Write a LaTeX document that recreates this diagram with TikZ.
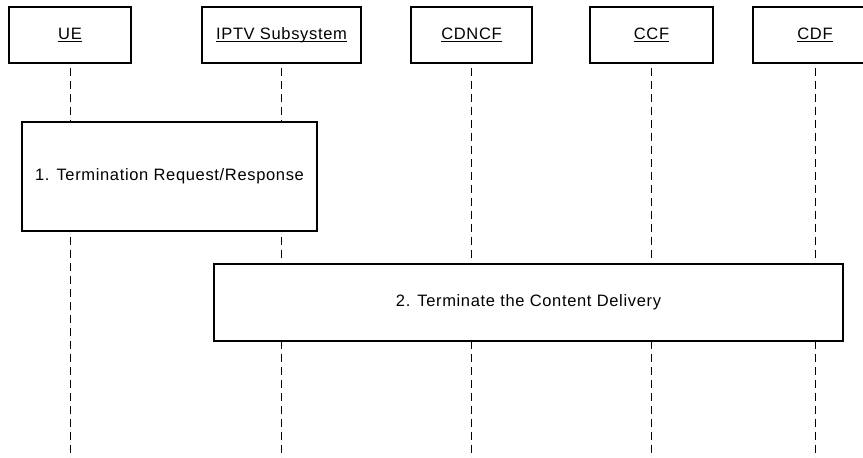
\documentclass[tikz,border=0pt]{standalone}
\usepackage{fontspec}
\setmainfont{Liberation Sans}[LetterSpace=4]
\newcommand{\lbl}{\fontsize{16.5}{19}\selectfont}
\newcommand{\ulbl}[1]{\setbox0\hbox{#1}\rlap{\rule[-2.4pt]{\wd0}{0.9pt}}\box0}
\begin{document}
\begin{tikzpicture}[x=1pt,y=-1pt,
  hdr/.style={draw, line width=1.1pt, fill=white, minimum height=56pt, inner sep=0pt, font=\lbl},
  life/.style={line width=0.9pt, dash pattern=on 8pt off 5pt, dash phase=9pt},
  act/.style={draw, line width=1.3pt, fill=white, inner sep=0pt, font=\lbl}]
\useasboundingbox (0,0) rectangle (863,458);
\clip (0,0) rectangle (863,458);
% headers
\node[hdr, minimum width=122pt] (ue)   at (70,35)    {\ulbl{UE}};
\node[hdr, minimum width=159pt] (iptv) at (281.5,35) {\ulbl{IPTV Subsystem}};
\node[hdr, minimum width=121pt] (cdncf) at (471.5,35) {\ulbl{CDNCF}};
\node[hdr, minimum width=123pt] (ccf)  at (651.5,35) {\ulbl{CCF}};
\node[hdr, minimum width=124pt] (cdf)  at (815,35)   {\ulbl{CDF}};
% lifeline ends
\coordinate (ueEnd)    at (70,460);
\coordinate (iptvEnd)  at (281.5,460);
\coordinate (cdncfEnd) at (471.5,460);
\coordinate (ccfEnd)   at (651.5,460);
\coordinate (cdfEnd)   at (815,460);
\draw[life] (ue.south) -- (ueEnd);
\draw[life] (iptv.south) -- (iptvEnd);
\draw[life] (cdncf.south) -- (cdncfEnd);
\draw[life] (ccf.south) -- (ccfEnd);
\draw[life] (cdf.south) -- (cdfEnd);
% action boxes
\node[act, minimum width=295pt, minimum height=109pt] (step1) at (169.5,176.5) {1. Termination Request/Response};
\node[act, minimum width=629pt, minimum height=77pt] (step2) at (528.5,302.5) {2. Terminate the Content Delivery};
\end{tikzpicture}
\end{document}
